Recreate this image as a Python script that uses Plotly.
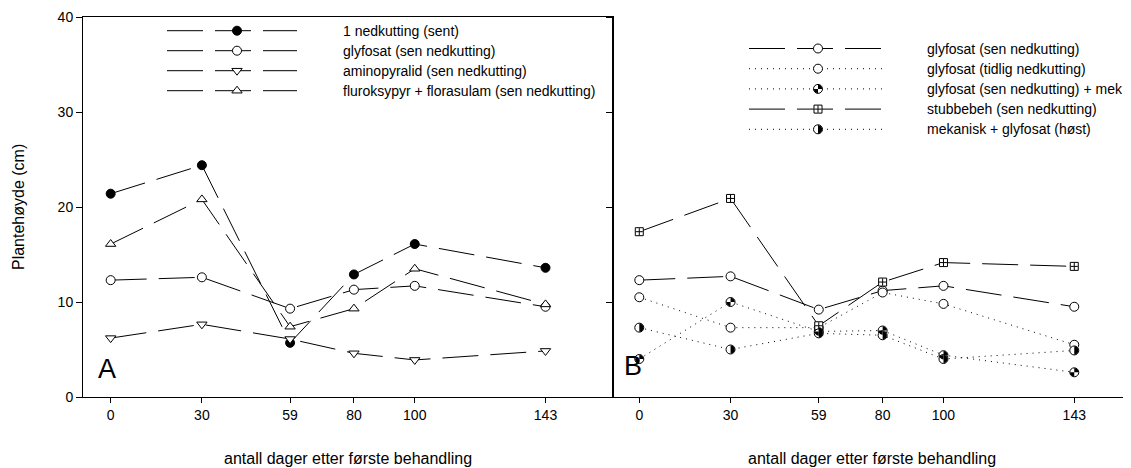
import numpy as np
import plotly.graph_objects as go

# ---------------- data ----------------
days = [0, 30, 59, 80, 100, 143]
tick_labels = ["0", "30", "59", "80", "100", "143"]
y_ticks = [0, 10, 20, 30, 40]

# Panel A
a_sent = [21.4, 24.4, 5.7, 12.9, 16.1, 13.6]
a_glyf_sen = [12.3, 12.6, 9.3, 11.3, 11.7, 9.5]
a_amino = [6.2, 7.65, 6.1, 4.6, 3.9, 4.85]
a_flur = [16.1, 20.8, 7.4, 9.3, 13.5, 9.75]
a_names = ["1 nedkutting (sent)", "glyfosat (sen nedkutting)",
           "aminopyralid (sen nedkutting)", "fluroksypyr + florasulam (sen nedkutting)"]

# Panel B
b_glyf_sen = [12.3, 12.7, 9.2, 11.2, 11.7, 9.5]
b_glyf_tidlig = [10.5, 7.3, 7.3, 11.0, 9.8, 5.5]
b_glyf_mek = [4.0, 10.0, 6.9, 7.0, 4.4, 2.6]
b_stubbe = [17.4, 20.9, 7.5, 12.1, 14.15, 13.75]
b_mek_host = [7.3, 5.0, 6.7, 6.5, 4.0, 4.9]
b_names = ["glyfosat (sen nedkutting)", "glyfosat (tidlig nedkutting)",
           "glyfosat (sen nedkutting) + mek", "stubbebeh (sen nedkutting)",
           "mekanisk + glyfosat (høst)"]

x_title = "antall dager etter første behandling"
y_title = "Plantehøyde (cm)"

# ---------------- layout geometry (page pixels) ----------------
OFF = 8                      # page body margin offset
PAGE_W, PAGE_H = 1131, 468
LEFT, RIGHT, TOP, BOTTOM = 83, 1131, 17, 397   # plot area on the page
W, H = PAGE_W - OFF, PAGE_H - OFF
ML, MT = LEFT - OFF, TOP - OFF
MR = W - (RIGHT - OFF)
MB = H - (BOTTOM - OFF)
PW = W - ML - MR
PH = H - MT - MB
split = (612.7 - LEFT) / PW
xa_range = [-9.1, 165.1]
xb_range = [-8.74, 161.65]
y_range = [0, 40]


def px_x(p):
    return (p - LEFT) / PW


def px_y(p):
    return (BOTTOM - p) / PH


FONT = "Liberation Sans, Arial, sans-serif"
LONG = "36px,12px"
DOT = "1px,5px"
LEG_FONT = 14

fig = go.Figure()


def series(x, y, xa, ya, symbol, fill, dash, size=9):
    fig.add_trace(go.Scatter(
        x=x, y=y, xaxis=xa, yaxis=ya, mode="lines+markers",
        line=dict(color="black", width=1, dash=dash),
        marker=dict(symbol=symbol, size=size, color=fill,
                    line=dict(color="black", width=1)),
        showlegend=False, hoverinfo="skip"))


# Panel A
series(days, a_sent, "x", "y", "circle", "black", LONG)
series(days, a_glyf_sen, "x", "y", "circle", "white", LONG)
series(days, a_amino, "x", "y", "triangle-down", "white", LONG)
series(days, a_flur, "x", "y", "triangle-up", "white", LONG)

# Panel B
series(days, b_glyf_sen, "x2", "y2", "circle", "white", LONG)
series(days, b_glyf_tidlig, "x2", "y2", "circle", "white", DOT)
series(days, b_glyf_mek, "x2", "y2", "circle", "white", DOT)
series(days, b_stubbe, "x2", "y2", "square", "white", LONG, size=8)
series(days, b_mek_host, "x2", "y2", "circle", "white", DOT)

shapes = []

px_day_b = (PW * (1 - split)) / (xb_range[1] - xb_range[0])
px_cm = PH / (y_range[1] - y_range[0])
R = 4.2


def wedge(cx, cy, rx, ry, a0, a1, xref, yref):
    t = np.linspace(np.radians(a0), np.radians(a1), 16)
    pts = [f"{cx + rx*np.cos(v):.4f},{cy + ry*np.sin(v):.4f}" for v in t]
    return dict(type="path", xref=xref, yref=yref,
                path=f"M {cx:.4f},{cy:.4f} L " + " L ".join(pts) + " Z",
                fillcolor="black", line=dict(width=0), layer="above")


def plus(cx, cy, rx, ry, xref, yref):
    return [dict(type="line", xref=xref, yref=yref, x0=cx - rx, x1=cx + rx, y0=cy, y1=cy,
                 line=dict(color="black", width=1), layer="above"),
            dict(type="line", xref=xref, yref=yref, x0=cx, x1=cx, y0=cy - ry, y1=cy + ry,
                 line=dict(color="black", width=1), layer="above")]


rx_b, ry_b = R / px_day_b, R / px_cm
for d, v in zip(days, b_glyf_mek):
    shapes.append(wedge(d, v, rx_b, ry_b, 0, 90, "x2", "y2"))
    shapes.append(wedge(d, v, rx_b, ry_b, 180, 270, "x2", "y2"))
for d, v in zip(days, b_mek_host):
    shapes.append(wedge(d, v, rx_b, ry_b, -90, 90, "x2", "y2"))
for d, v in zip(days, b_stubbe):
    shapes += plus(d, v, 3.6 / px_day_b, 3.6 / px_cm, "x2", "y2")

# ---------------- custom legends (page-pixel axis x3/y3) ----------------
annotations = []


def legend_row(x0, x1, xm, y, xt, text, symbol, fill, dash, kind=None, size=9):
    fig.add_trace(go.Scatter(x=[x0, x1], y=[y, y], xaxis="x3", yaxis="y3", mode="lines",
                             line=dict(color="black", width=1, dash=dash),
                             showlegend=False, hoverinfo="skip"))
    fig.add_trace(go.Scatter(x=[xm], y=[y], xaxis="x3", yaxis="y3", mode="markers",
                             marker=dict(symbol=symbol, size=size, color=fill,
                                         line=dict(color="black", width=1)),
                             showlegend=False, hoverinfo="skip"))
    if kind == "quarter":
        shapes.append(wedge(xm, y, R, -R, 0, 90, "x3", "y3"))
        shapes.append(wedge(xm, y, R, -R, 180, 270, "x3", "y3"))
    elif kind == "half":
        shapes.append(wedge(xm, y, R, -R, -90, 90, "x3", "y3"))
    elif kind == "plus":
        shapes.extend(plus(xm, y, 3.6, 3.6, "x3", "y3"))
    annotations.append(dict(x=xt, y=y, xref="x3", yref="y3", text=text, showarrow=False,
                            xanchor="left", yanchor="middle",
                            font=dict(family=FONT, size=LEG_FONT, color="black")))


a_syms = [("circle", "black", None), ("circle", "white", None),
          ("triangle-down", "white", None), ("triangle-up", "white", None)]
for i, (name, (s, f, k)) in enumerate(zip(a_names, a_syms)):
    legend_row(167, 297, 237, 30.7 + 20 * i, 341, name, s, f, LONG, k)

b_syms = [("circle", "white", None, LONG), ("circle", "white", None, DOT),
          ("circle", "white", "quarter", DOT), ("square", "white", "plus", LONG),
          ("circle", "white", "half", DOT)]
for i, (name, (s, f, k, dsh)) in enumerate(zip(b_names, b_syms)):
    legend_row(749, 885, 818, 48.5 + 20.2 * i, 925, name, s, f, dsh, k,
               size=8 if s == "square" else 9)

# titles and panel labels
annotations.append(dict(x=px_x(18), y=px_y(207), xref="paper", yref="paper", text=y_title,
                        textangle=-90, showarrow=False, xanchor="center", yanchor="middle",
                        font=dict(family=FONT, size=16, color="black")))
annotations.append(dict(x=(px_x(83) + px_x(612.7)) / 2, y=px_y(458), xref="paper", yref="paper",
                        text=x_title, showarrow=False, xanchor="center", yanchor="middle",
                        font=dict(family=FONT, size=16, color="black")))
annotations.append(dict(x=(px_x(612.7) + px_x(1131)) / 2, y=px_y(458), xref="paper",
                        yref="paper", text=x_title, showarrow=False, xanchor="center",
                        yanchor="middle", font=dict(family=FONT, size=16, color="black")))
annotations.append(dict(x=px_x(106.5), y=px_y(369), xref="paper", yref="paper",
                        text="A", showarrow=False, xanchor="center", yanchor="middle",
                        font=dict(family=FONT, size=27, color="black")))
annotations.append(dict(x=px_x(633), y=px_y(366), xref="paper", yref="paper",
                        text="B", showarrow=False, xanchor="center", yanchor="middle",
                        font=dict(family=FONT, size=27, color="black")))

axis_common = dict(showgrid=False, zeroline=False, showline=True, linecolor="black",
                   linewidth=1, ticks="outside", tickcolor="black", tickwidth=1,
                   tickfont=dict(family=FONT, size=14, color="black"))

fig.update_layout(
    width=W, height=H, margin=dict(l=ML, r=MR, t=MT, b=MB, autoexpand=False),
    paper_bgcolor="white", plot_bgcolor="rgba(0,0,0,0)",
    font=dict(family=FONT, color="black"),
    xaxis=dict(domain=[0, split], range=xa_range, tickvals=days, ticktext=tick_labels,
               ticklen=5, mirror=True, anchor="y", **axis_common),
    yaxis=dict(domain=[0, 1], range=y_range, tickvals=y_ticks, ticklen=6, mirror=True,
               anchor="x", **axis_common),
    xaxis2=dict(domain=[split, 1], range=xb_range, tickvals=days, ticktext=tick_labels,
                ticklen=5, anchor="y2", **axis_common),
    yaxis2=dict(domain=[0, 1], range=y_range, tickvals=y_ticks, ticklen=6, anchor="x2",
                showticklabels=False, **axis_common),
    xaxis3=dict(domain=[0, 1], range=[LEFT, RIGHT], visible=False, anchor="y3",
                fixedrange=True),
    yaxis3=dict(domain=[0, 1], range=[BOTTOM, TOP], visible=False, anchor="x3",
                fixedrange=True),
    shapes=shapes, annotations=annotations, showlegend=False,
)

fig.write_html("out.html")
